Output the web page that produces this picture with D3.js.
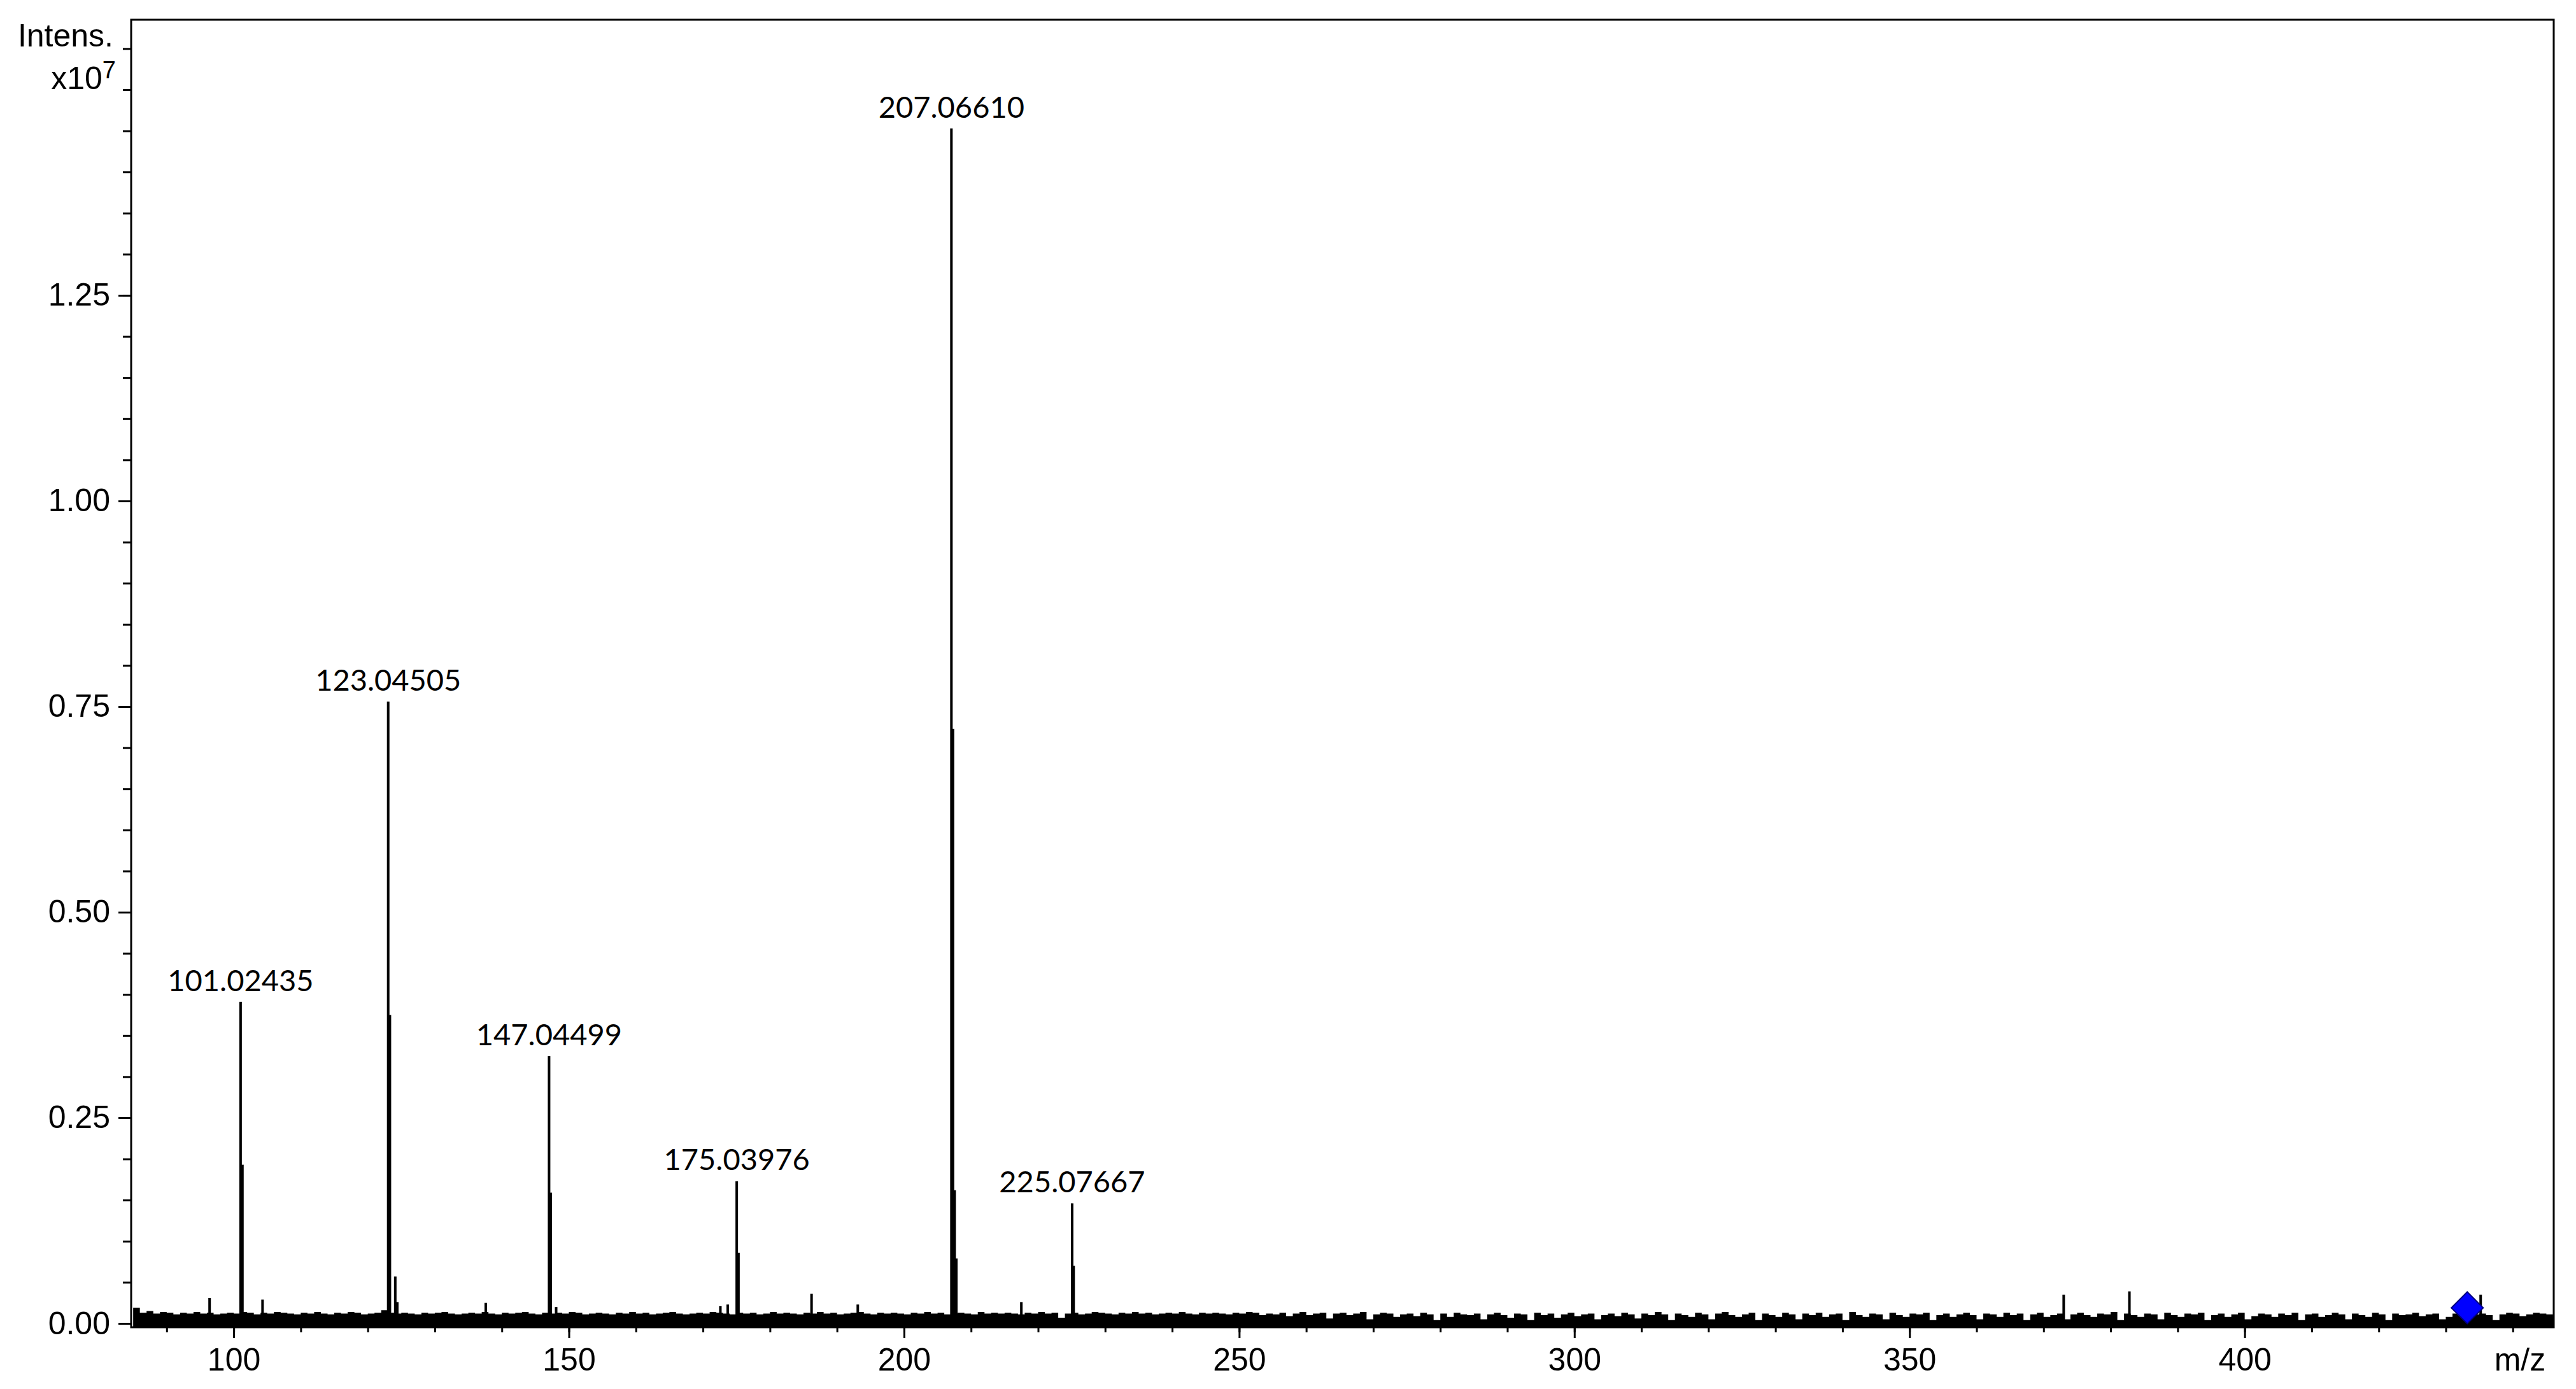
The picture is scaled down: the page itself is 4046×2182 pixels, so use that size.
<!DOCTYPE html>
<html>
<head>
<meta charset="utf-8">
<script src="https://cdnjs.cloudflare.com/ajax/libs/d3/7.8.5/d3.min.js"></script>
<style>
  body { margin: 0; background: #fff; }
  .axis text { font-family: "Liberation Sans", Arial, sans-serif; font-size: 50px; fill: #000; }
  .axis line { stroke: #000; stroke-width: 3px; }
  .axis path { display: none; }
  .peaklabel { font-family: Lato, "Open Sans", sans-serif; font-size: 47px; fill: #000; }
</style>
</head>
<body>
<div id="chart"></div>
<script>
// labelled peaks (m/z, intensity x10^7)
var peakMz = [101.02435, 123.04505, 147.04499, 175.03976, 207.06610, 225.07667];
var peakInt = [0.391, 0.756, 0.325, 0.173, 1.453, 0.146];

// peak shoulders, isotopes and small spikes
var minorMz = [96.4, 101.3, 104.3, 123.3, 124.1, 124.4, 137.6, 147.3, 148.1, 172.6, 173.7, 175.3,
    186.2, 193.1, 207.3, 207.55, 207.8, 217.5, 225.3, 373.0, 382.8, 435.2];
var minorInt = [0.031, 0.193, 0.029, 0.375, 0.057, 0.026, 0.025, 0.159, 0.020, 0.021, 0.023, 0.086,
    0.036, 0.023, 0.723, 0.162, 0.079, 0.026, 0.070, 0.035, 0.039, 0.035];

// baseline noise, one value per m/z unit starting at 85
var noiseStart = 85;
var noise = [
    .019,.013,.015,.012,.014,.013,.011,.013,.012,.014,
    .012,.013,.011,.012,.013,.012,.014,.013,.011,.013,
    .012,.014,.013,.012,.011,.013,.012,.014,.012,.011,
    .013,.012,.014,.013,.011,.012,.013,.016,.013,.012,
    .013,.012,.011,.013,.012,.013,.014,.012,.011,.012,
    .013,.012,.014,.012,.011,.013,.012,.013,.014,.012,
    .011,.013,.012,.013,.012,.014,.013,.011,.012,.013,
    .012,.011,.013,.012,.014,.012,.013,.011,.012,.013,
    .014,.012,.011,.012,.013,.012,.014,.013,.012,.011,
    .013,.012,.013,.011,.012,.014,.012,.013,.012,.011,
    .013,.012,.014,.012,.013,.011,.012,.013,.014,.012,
    .011,.013,.012,.013,.012,.011,.013,.012,.014,.012,
    .013,.011,.012,.013,.012,.011,.014,.012,.013,.012,
    .013,.012,.011,.013,.012,.014,.012,.013,.007,.012,
    .013,.011,.012,.014,.013,.012,.011,.013,.012,.014,
    .012,.013,.011,.012,.013,.012,.014,.012,.011,.013,
    .012,.013,.012,.011,.013,.012,.014,.013,.010,.012,
    .011,.013,.009,.012,.014,.010,.012,.013,.006,.012,
    .013,.010,.012,.014,.005,.011,.013,.012,.008,.011,
    .012,.009,.013,.011,.004,.012,.008,.013,.011,.010,
    .012,.005,.011,.013,.010,.007,.012,.011,.004,.013,
    .010,.012,.007,.011,.013,.009,.011,.012,.005,.010,
    .012,.009,.013,.011,.006,.012,.010,.014,.011,.004,
    .012,.010,.008,.013,.011,.005,.012,.014,.010,.008,
    .011,.013,.004,.012,.010,.008,.013,.011,.005,.012,
    .010,.013,.008,.011,.012,.004,.014,.010,.008,.012,
    .011,.005,.013,.010,.008,.012,.011,.013,.004,.010,
    .012,.008,.011,.013,.010,.005,.012,.011,.008,.013,
    .010,.012,.004,.011,.013,.008,.010,.012,.005,.011,
    .013,.010,.008,.012,.011,.014,.004,.012,.010,.008,
    .012,.011,.005,.013,.010,.008,.012,.011,.013,.004,
    .010,.012,.008,.011,.013,.005,.009,.012,.011,.008,
    .012,.010,.013,.004,.011,.012,.008,.010,.013,.011,
    .005,.012,.010,.008,.013,.011,.004,.012,.010,.011,
    .013,.009,.011,.012,.005,.008,.012,.013,.009,.011,
    .012,.010,.004,.011,.013,.012,.009,.011,.013,.012,
    .011,.007
];

// precursor marker
var precursorMz = [433.2];
var precursorInt = [0.019];

var xTicksMajor = [100, 150, 200, 250, 300, 350, 400];
var yTicksMajor = [0, 0.25, 0.5, 0.75, 1.0, 1.25];

var width = 4046, height = 2182;
var plotLeft = 206, plotRight = 4011, plotTop = 31, plotBottom = 2085;

var svg = d3.select("#chart").append("svg")
    .attr("width", width)
    .attr("height", height);

var x = d3.scaleLinear().domain([84.7, 446.1]).range([plotLeft, plotRight]);
var y = d3.scaleLinear().domain([-0.00464, 1.5851]).range([plotBottom, plotTop]);

var noiseData = noise.map(function(v, i) { return { mz: noiseStart + i, v: v }; });
noiseData.push({ mz: 446.1, v: noise[noise.length - 1] });

var area = d3.area()
    .curve(d3.curveStepAfter)
    .x(function(d) { return x(d.mz); })
    .y0(y(-0.00464))
    .y1(function(d) { return y(d.v); });

var plot = svg.append("g");

plot.append("path")
    .datum(noiseData)
    .attr("d", area)
    .attr("fill", "#000");

var sticks = minorMz.map(function(m, i) { return { mz: m, v: minorInt[i] }; })
    .concat(peakMz.map(function(m, i) { return { mz: m, v: peakInt[i] }; }));

plot.selectAll(".stick")
    .data(sticks)
    .enter().append("rect")
    .attr("class", "stick")
    .attr("x", function(d) { return x(d.mz) - 2; })
    .attr("width", 4)
    .attr("y", function(d) { return y(d.v); })
    .attr("height", function(d) { return y(-0.00464) - y(d.v); })
    .attr("fill", "#000");

plot.selectAll(".peaklabel")
    .data(peakMz)
    .enter().append("text")
    .attr("class", "peaklabel")
    .attr("text-anchor", "middle")
    .attr("x", function(d) { return x(d); })
    .attr("y", function(d, i) { return y(peakInt[i]) - 17; })
    .text(function(d) { return d.toFixed(5); });

plot.selectAll(".precursor")
    .data(precursorMz)
    .enter().append("path")
    .attr("class", "precursor")
    .attr("d", d3.symbol().type(d3.symbolSquare).size(1250))
    .attr("transform", function(d, i) { return "translate(" + x(d) + "," + y(precursorInt[i]) + ") rotate(45)"; })
    .attr("fill", "#0000ff")
    .attr("stroke", "#000080")
    .attr("stroke-width", 2);

// x axis: minor then major ticks
svg.append("g")
    .attr("class", "axis")
    .attr("transform", "translate(0," + plotBottom + ")")
    .call(d3.axisBottom(x).tickValues(d3.range(90, 446, 10)).tickSize(8).tickFormat(""));

svg.append("g")
    .attr("class", "axis")
    .attr("transform", "translate(0," + plotBottom + ")")
    .call(d3.axisBottom(x).tickValues(xTicksMajor).tickSize(17).tickPadding(15));

// y axis
svg.append("g")
    .attr("class", "axis")
    .attr("transform", "translate(" + plotLeft + ",0)")
    .call(d3.axisLeft(y).tickValues(d3.range(0, 1.58, 0.05)).tickSize(13).tickFormat(""));

svg.append("g")
    .attr("class", "axis")
    .attr("transform", "translate(" + plotLeft + ",0)")
    .call(d3.axisLeft(y).tickValues(yTicksMajor).tickSize(20).tickPadding(13).tickFormat(d3.format(".2f")));

// frame
svg.append("rect")
    .attr("x", plotLeft)
    .attr("y", plotTop)
    .attr("width", plotRight - plotLeft)
    .attr("height", plotBottom - plotTop)
    .attr("fill", "none")
    .attr("stroke", "#000")
    .attr("stroke-width", 3);

// axis titles
var titleFont = "'Liberation Sans', Arial, sans-serif";
svg.append("text")
    .attr("x", 178).attr("y", 73)
    .attr("text-anchor", "end")
    .style("font-family", titleFont).style("font-size", "50px")
    .text("Intens.");

var yunit = svg.append("text")
    .attr("x", 182).attr("y", 140)
    .attr("text-anchor", "end")
    .style("font-family", titleFont).style("font-size", "50px");
yunit.append("tspan").text("x10");
yunit.append("tspan").attr("dy", -17).style("font-size", "38px").text("7");

svg.append("text")
    .attr("x", 3958).attr("y", 2153)
    .attr("text-anchor", "middle")
    .style("font-family", titleFont).style("font-size", "50px")
    .text("m/z");
</script>
</body>
</html>
